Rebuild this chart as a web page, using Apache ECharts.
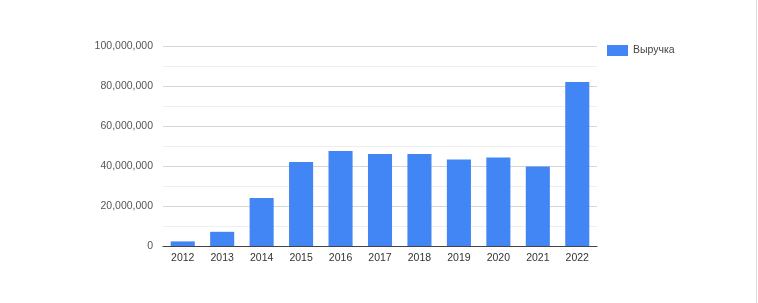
<!DOCTYPE html>
<html>
<head>
<meta charset="utf-8">
<script src="https://cdn.jsdelivr.net/npm/echarts@6/dist/echarts.min.js"></script>
<style>
html,body{margin:0;padding:0;background:#fff;}
#chart{width:758px;height:303px;}
</style>
</head>
<body>
<div id="chart"></div>
<script>
const categories = ['2012','2013','2014','2015','2016','2017','2018','2019','2020','2021','2022'];
const revenue = [2300000, 7100000, 24000000, 42000000, 47500000, 46000000, 46000000, 43300000, 44200000, 39700000, 82000000];
const seriesName = 'Выручка';

const chart = echarts.init(document.getElementById('chart'), null, {renderer:'canvas'});
chart.setOption({
  animation: false,
  backgroundColor: '#fff',
  textStyle: {fontFamily: 'Liberation Sans, Arial, sans-serif'},
  grid: {left: 163, right: 161, top: 46, bottom: 57, containLabel: false},
  legend: {
    data: [seriesName],
    left: 607, top: 45,
    itemWidth: 21, itemHeight: 11, itemGap: 5,
    icon: 'rect',
    textStyle: {fontSize: 10.5, color: '#444', padding: [3,0,0,0]},
    padding: 0
  },
  xAxis: {
    type: 'category',
    data: categories,
    axisTick: {show: false},
    axisLine: {lineStyle: {color: '#444', width: 1}},
    axisLabel: {fontSize: 10.5, color: '#333', margin: 7}
  },
  yAxis: {
    type: 'value',
    min: 0, max: 100000000, interval: 20000000,
    axisLine: {show: false},
    axisTick: {show: false},
    axisLabel: {
      fontSize: 10.5, color: '#555', margin: 10,
      formatter: v => v.toLocaleString('en-US')
    },
    splitLine: {lineStyle: {color: '#d6d6d6', width: 1}},
    minorTick: {show: false, splitNumber: 2},
    minorSplitLine: {show: true, lineStyle: {color: '#eeeeee', width: 1}}
  },
  series: [{
    name: seriesName,
    type: 'bar',
    data: revenue,
    barCategoryGap: '39%',
    itemStyle: {color: '#4285f4'}
  }],
  graphic: [{
    type: 'line',
    shape: {x1: 756.5, y1: 0, x2: 756.5, y2: 303},
    style: {stroke: '#ddd', lineWidth: 1}
  }]
});
</script>
</body>
</html>
